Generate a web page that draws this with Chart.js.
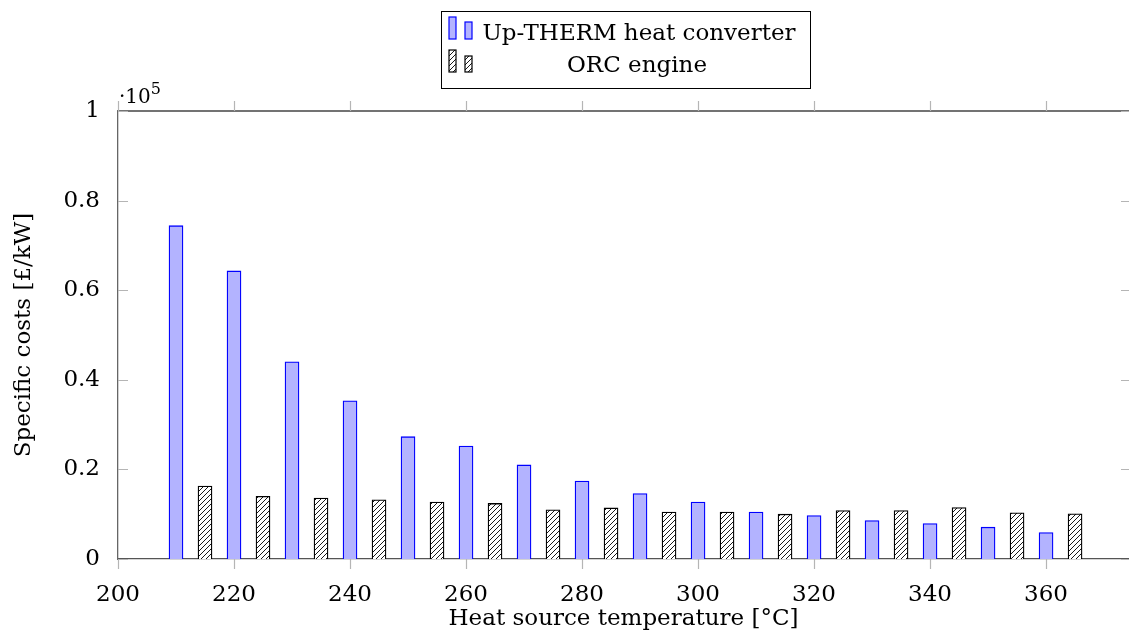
<!DOCTYPE html>
<html>
<head>
<meta charset="utf-8">
<script src="https://cdn.jsdelivr.net/npm/chart.js@4.4.1/dist/chart.umd.min.js"></script>
<style>
  html, body { margin: 0; padding: 0; background: #fff; }
  #wrap { width: 1129px; height: 635px; position: relative; }
</style>
</head>
<body>
<div id="wrap"><canvas id="costs" width="1129" height="635"></canvas></div>
<script>
// heat source temperature [°C]
var upThermTemps = [210, 220, 230, 240, 250, 260, 270, 280, 290, 300, 310, 320, 330, 340, 350, 360];
var orcTemps = [215, 225, 235, 245, 255, 265, 275, 285, 295, 305, 315, 325, 335, 345, 355, 365];
// specific costs [£/kW]
var upThermCosts = [74400, 64300, 44000, 35300, 27300, 25200, 21000, 17400, 14600, 12700, 10500, 9700, 8600, 7900, 7100, 5900];
var orcCosts = [16300, 14000, 13600, 13200, 12700, 12400, 11000, 11400, 10500, 10500, 10000, 10800, 10800, 11500, 10300, 10100];
var xTicks = [200, 220, 240, 260, 280, 300, 320, 340, 360];
var yTicks = [0, 20000, 40000, 60000, 80000, 100000];

var FONT = "'DejaVu Serif', 'Liberation Serif', serif";
var blueFill = 'rgb(179, 179, 255)';
var blueLine = 'rgb(0, 0, 255)';

function hatch() {
    var c = document.createElement('canvas');
    c.width = 5; c.height = 5;
    var g = c.getContext('2d');
    g.fillStyle = '#fff';
    g.fillRect(0, 0, 5, 5);
    g.strokeStyle = '#000';
    g.lineWidth = 0.9;
    g.beginPath();
    g.moveTo(-1, 6); g.lineTo(6, -1);
    g.moveTo(-1, 1); g.lineTo(1, -1);
    g.moveTo(4, 6); g.lineTo(6, 4);
    g.stroke();
    return g.createPattern(c, 'repeat');
}
var hatchFill = hatch();

function pts(xs, ys) {
    return xs.map(function (x, i) { return { x: x, y: ys[i] }; });
}

var decor = {
    id: 'decor',
    afterDraw: function (chart) {
        var ctx = chart.ctx, a = chart.chartArea;
        var xs = chart.scales.x, ys = chart.scales.y;
        ctx.save();
        // top frame line
        ctx.strokeStyle = '#444';
        ctx.lineWidth = 1.3;
        ctx.beginPath();
        ctx.moveTo(a.left, a.top); ctx.lineTo(a.right, a.top);
        ctx.stroke();
        // tick marks
        ctx.strokeStyle = '#b5b5b5';
        ctx.lineWidth = 1.2;
        ctx.beginPath();
        xTicks.forEach(function (v) {
            var p = Math.round(xs.getPixelForValue(v)) + 0.5;
            ctx.moveTo(p, a.bottom); ctx.lineTo(p, a.bottom + 10);
            ctx.moveTo(p, a.top); ctx.lineTo(p, a.top - 10);
        });
        yTicks.forEach(function (v) {
            var p = Math.round(ys.getPixelForValue(v)) + 0.5;
            ctx.moveTo(a.left, p); ctx.lineTo(a.left + 10, p);
            ctx.moveTo(a.right, p); ctx.lineTo(a.right - 8, p);
        });
        ctx.stroke();
        // scale factor label
        ctx.fillStyle = '#000';
        ctx.textBaseline = 'alphabetic';
        ctx.textAlign = 'left';
        ctx.font = '20px ' + FONT;
        ctx.fillText('\u00b710', a.left + 1, a.top - 8);
        var w = ctx.measureText('\u00b710').width;
        ctx.font = '16px ' + FONT;
        ctx.fillText('5', a.left + 1 + w, a.top - 17);

        // legend
        ctx.strokeStyle = '#000';
        ctx.lineWidth = 1;
        ctx.strokeRect(441.5, 11.5, 369, 77);
        function icon(x, y, h, fill, line) {
            ctx.fillStyle = fill;
            ctx.fillRect(x, y - h, 7, h);
            ctx.strokeStyle = line;
            ctx.lineWidth = 1.2;
            ctx.strokeRect(x, y - h, 7, h);
        }
        icon(449, 39, 22, blueFill, blueLine);
        icon(465, 39, 17, blueFill, blueLine);
        icon(449, 72, 22, hatchFill, '#000');
        icon(465, 72, 16, hatchFill, '#000');
        ctx.fillStyle = '#000';
        ctx.font = '23px ' + FONT;
        ctx.textAlign = 'center';
        ctx.fillText('Up-THERM heat converter', 639, 40);
        ctx.fillText('ORC engine', 637, 72);
        ctx.restore();
    }
};

new Chart(document.getElementById('costs'), {
    type: 'bar',
    data: {
        datasets: [{
            label: 'Up-THERM heat converter',
            data: pts(upThermTemps, upThermCosts),
            backgroundColor: blueFill,
            borderColor: blueLine,
            borderWidth: 1.3,
            barThickness: 14,
            grouped: false
        }, {
            label: 'ORC engine',
            data: pts(orcTemps, orcCosts),
            backgroundColor: hatchFill,
            borderColor: '#000',
            borderWidth: 1.3,
            barThickness: 14,
            grouped: false
        }]
    },
    plugins: [decor],
    options: {
        responsive: false,
        animation: false,
        layout: { padding: { top: 111, left: 0, right: 0, bottom: 0 } },
        plugins: {
            legend: { display: false },
            tooltip: { enabled: false }
        },
        scales: {
            x: {
                type: 'linear',
                min: 200,
                max: 374.3,
                offset: false,
                grid: { display: false },
                border: { display: true, color: '#555', width: 1.3 },
                afterFit: function (s) { s.height = 76; },
                ticks: {
                    stepSize: 20,
                    includeBounds: false,
                    autoSkip: false,
                    maxRotation: 0,
                    padding: 14,
                    color: '#000',
                    font: { family: FONT, size: 23 }
                },
                title: {
                    display: true,
                    text: 'Heat source temperature [\u00b0C]',
                    color: '#000',
                    font: { family: FONT, size: 23 },
                    padding: { top: 0, bottom: 2 }
                }
            },
            y: {
                min: 0,
                max: 100000,
                grid: { display: false },
                border: { display: true, color: '#666', width: 1.3 },
                afterFit: function (s) { s.width = 118; },
                ticks: {
                    stepSize: 20000,
                    padding: 10,
                    color: '#000',
                    font: { family: FONT, size: 23 },
                    callback: function (v) { return String(+(v / 100000).toFixed(1)); }
                },
                title: {
                    display: true,
                    text: 'Specific costs [\u00a3/kW]',
                    color: '#000',
                    font: { family: FONT, size: 23 },
                    padding: { top: 10, bottom: 0 }
                }
            }
        }
    }
});
</script>
</body>
</html>
